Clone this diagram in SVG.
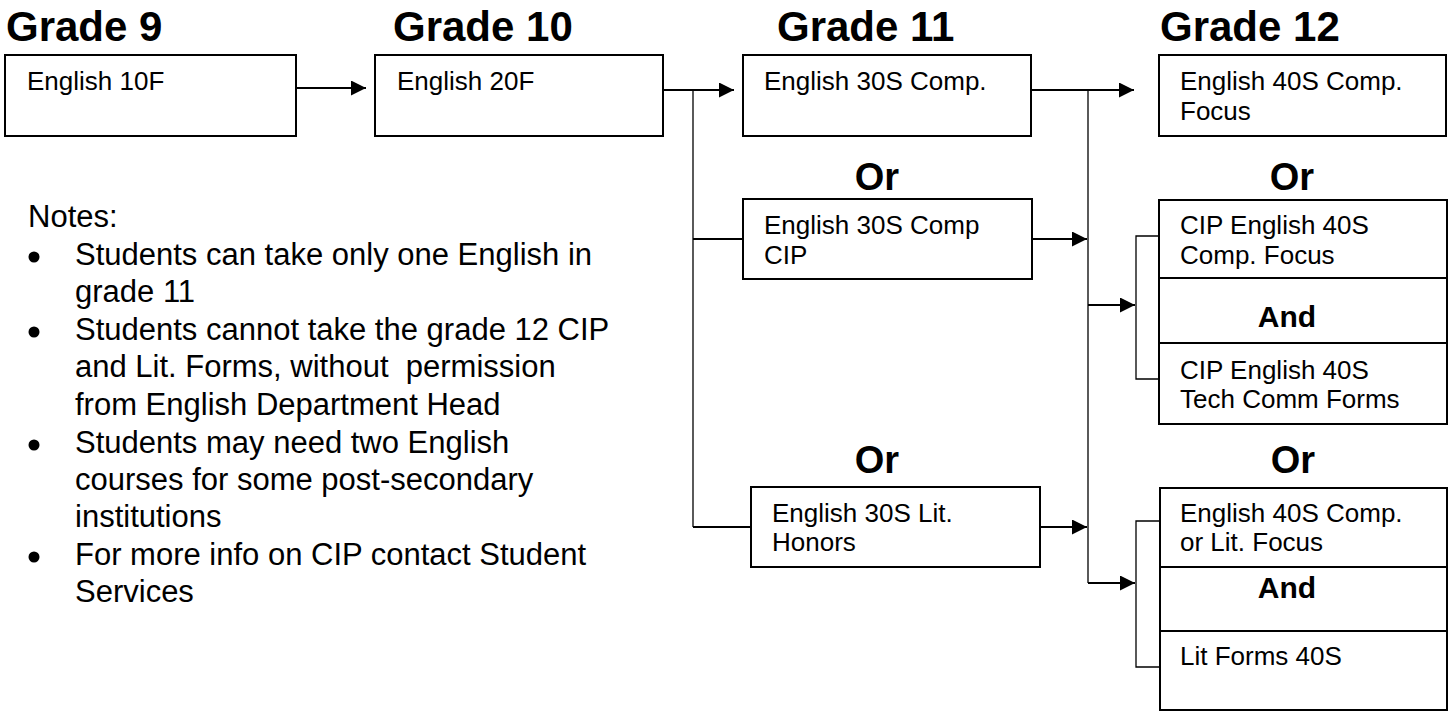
<svg xmlns="http://www.w3.org/2000/svg" width="1450" height="712" viewBox="0 0 1450 712">
<style>
.bg{fill:#ffffff}
.box{fill:#ffffff;stroke:#000000;stroke-width:2}
.div{stroke:#000000;stroke-width:2;fill:none}
.t{font-family:"Liberation Sans",Arial,sans-serif;font-size:26px;fill:#000000}
.n{font-family:"Liberation Sans",Arial,sans-serif;font-size:31px;fill:#000000}
.g{font-family:"Liberation Sans",Arial,sans-serif;font-size:42px;font-weight:bold;fill:#000000}
.or{font-family:"Liberation Sans",Arial,sans-serif;font-size:38px;font-weight:bold;fill:#000000;text-anchor:middle}
.and{font-family:"Liberation Sans",Arial,sans-serif;font-size:30px;font-weight:bold;fill:#000000;text-anchor:middle}
.c{stroke:#000000;stroke-width:2;fill:none}
.thin{stroke:#000000;stroke-width:1.3;fill:none}
.bul{fill:#000000}
</style>
<defs>
<marker id="ah" markerUnits="userSpaceOnUse" markerWidth="15" markerHeight="15" refX="15" refY="7.5" orient="auto">
<path d="M0,0 L15,7.5 L0,15 z" fill="#000000"/>
</marker>
</defs>
<rect class="bg" x="0" y="0" width="1450" height="712"/>

<g id="headings">
<text class="g" x="6" y="41">Grade 9</text>
<text class="g" x="393" y="41">Grade 10</text>
<text class="g" x="777" y="41">Grade 11</text>
<text class="g" x="1160" y="41">Grade 12</text>
<text class="or" x="877" y="190">Or</text>
<text class="or" x="1292" y="190">Or</text>
<text class="or" x="877" y="473">Or</text>
<text class="or" x="1293" y="473">Or</text>
</g>

<g id="connectors">
<path class="c" d="M296,88 H366" marker-end="url(#ah)"/>
<path class="c" d="M663,90 H734" marker-end="url(#ah)"/>
<path class="thin" d="M693,90 V527"/>
<path class="c" d="M693,239 H743"/>
<path class="c" d="M693,527 H751"/>
<path class="c" d="M1031,90 H1134" marker-end="url(#ah)"/>
<path class="thin" d="M1088,91 V583"/>
<path class="c" d="M1032,239 H1087" marker-end="url(#ah)"/>
<path class="c" d="M1088,305 H1135" marker-end="url(#ah)"/>
<path class="c" d="M1040,527 H1087" marker-end="url(#ah)"/>
<path class="c" d="M1088,583 H1135" marker-end="url(#ah)"/>
<path class="thin" d="M1159,236 H1136 V379 H1159"/>
<path class="thin" d="M1160,521 H1136 V667 H1160"/>
</g>

<g id="n-eng10f">
<rect class="box" x="5" y="55" width="291" height="81"/>
<text class="t" x="27" y="90">English 10F</text>
</g>
<g id="n-eng20f">
<rect class="box" x="375" y="55" width="288" height="81"/>
<text class="t" x="397" y="90">English 20F</text>
</g>
<g id="n-eng30s">
<rect class="box" x="743" y="55" width="288" height="81"/>
<text class="t" x="764" y="90">English 30S Comp.</text>
</g>
<g id="n-eng40s">
<rect class="box" x="1159" y="55" width="287" height="81"/>
<text class="t" x="1180" y="90">English 40S Comp.</text>
<text class="t" x="1180" y="120">Focus</text>
</g>
<g id="n-eng30scip">
<rect class="box" x="743" y="199" width="289" height="80"/>
<text class="t" x="764" y="234">English 30S Comp</text>
<text class="t" x="764" y="264">CIP</text>
</g>
<g id="n-eng30slit">
<rect class="box" x="751" y="487" width="289" height="80"/>
<text class="t" x="772" y="522">English 30S Lit.</text>
<text class="t" x="772" y="551">Honors</text>
</g>
<g id="n-cip40s">
<rect class="box" x="1159" y="200" width="288" height="224"/>
<path class="div" d="M1159,200 H1447" stroke-width="3"/>
<path class="div" d="M1159,278 H1447 M1159,343 H1447"/>
<text class="t" x="1180" y="234">CIP English 40S</text>
<text class="t" x="1180" y="264">Comp. Focus</text>
<text class="and" x="1287" y="327">And</text>
<text class="t" x="1180" y="379">CIP English 40S</text>
<text class="t" x="1180" y="408">Tech Comm Forms</text>
</g>
<g id="n-lit40s">
<rect class="box" x="1160" y="488" width="287" height="222"/>
<path class="div" d="M1160,488 H1447" stroke-width="3"/>
<path class="div" d="M1160,567 H1447 M1160,631 H1447"/>
<text class="t" x="1180" y="522">English 40S Comp.</text>
<text class="t" x="1180" y="551">or Lit. Focus</text>
<text class="and" x="1287" y="598">And</text>
<text class="t" x="1180" y="665">Lit Forms 40S</text>
</g>

<g id="notes">
<text class="n" x="28" y="227">Notes:</text>
<circle class="bul" cx="34" cy="257" r="5.5"/>
<text class="n" x="75" y="265">Students can take only one English in</text>
<text class="n" x="75" y="302">grade 11</text>
<circle class="bul" cx="34" cy="332" r="5.5"/>
<text class="n" x="75" y="340">Students cannot take the grade 12 CIP</text>
<text class="n" x="75" y="377" xml:space="preserve">and Lit. Forms, without  permission</text>
<text class="n" x="75" y="415">from English Department Head</text>
<circle class="bul" cx="34" cy="445" r="5.5"/>
<text class="n" x="75" y="453">Students may need two English</text>
<text class="n" x="75" y="490">courses for some post-secondary</text>
<text class="n" x="75" y="527">institutions</text>
<circle class="bul" cx="34" cy="557" r="5.5"/>
<text class="n" x="75" y="565">For more info on CIP contact Student</text>
<text class="n" x="75" y="602">Services</text>
</g>
</svg>
